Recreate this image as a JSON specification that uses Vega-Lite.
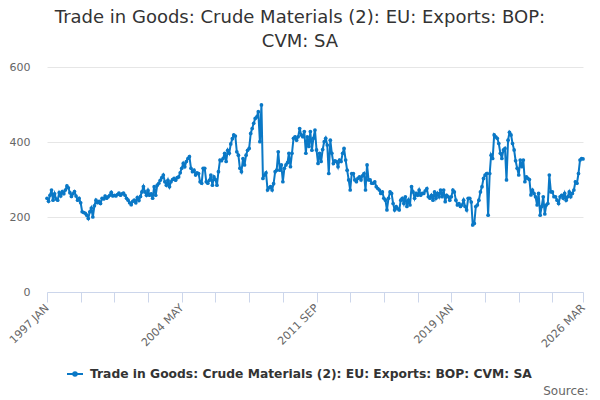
{
  "$schema": "https://vega.github.io/schema/vega-lite/v6.json",
  "description": "Trade in Goods: Crude Materials (2): EU: Exports, monthly",
  "autosize": "none",
  "width": 536,
  "height": 225,
  "padding": {"left": 47, "top": 67, "right": 17, "bottom": 108},
  "background": "white",
  "title": {
    "text": ["Trade in Goods: Crude Materials (2): EU: Exports: BOP:", "CVM: SA"],
    "font": "DejaVu Sans",
    "fontSize": 18,
    "fontWeight": "normal",
    "color": "#333333",
    "anchor": "middle",
    "frame": "group",
    "dx": -15,
    "offset": 10,
    "lineHeight": 24
  },
  "data": {
    "values": [
      {"date": "1997-01-01", "value": 250}, {"date": "1997-02-01", "value": 242}, {"date": "1997-03-01", "value": 258}, {"date": "1997-04-01", "value": 272}, {"date": "1997-05-01", "value": 245}, {"date": "1997-06-01", "value": 262}, {"date": "1997-07-01", "value": 248}, {"date": "1997-08-01", "value": 245}, {"date": "1997-09-01", "value": 265}, {"date": "1997-10-01", "value": 256}, {"date": "1997-11-01", "value": 268}, {"date": "1997-12-01", "value": 262},
      {"date": "1998-01-01", "value": 272}, {"date": "1998-02-01", "value": 283}, {"date": "1998-03-01", "value": 278}, {"date": "1998-04-01", "value": 265}, {"date": "1998-05-01", "value": 255}, {"date": "1998-06-01", "value": 262}, {"date": "1998-07-01", "value": 268}, {"date": "1998-08-01", "value": 256}, {"date": "1998-09-01", "value": 245}, {"date": "1998-10-01", "value": 250}, {"date": "1998-11-01", "value": 238}, {"date": "1998-12-01", "value": 214},
      {"date": "1999-01-01", "value": 212}, {"date": "1999-02-01", "value": 210}, {"date": "1999-03-01", "value": 205}, {"date": "1999-04-01", "value": 196}, {"date": "1999-05-01", "value": 214}, {"date": "1999-06-01", "value": 224}, {"date": "1999-07-01", "value": 200}, {"date": "1999-08-01", "value": 230}, {"date": "1999-09-01", "value": 245}, {"date": "1999-10-01", "value": 238}, {"date": "1999-11-01", "value": 242}, {"date": "1999-12-01", "value": 236},
      {"date": "2000-01-01", "value": 250}, {"date": "2000-02-01", "value": 248}, {"date": "2000-03-01", "value": 256}, {"date": "2000-04-01", "value": 250}, {"date": "2000-05-01", "value": 254}, {"date": "2000-06-01", "value": 258}, {"date": "2000-07-01", "value": 266}, {"date": "2000-08-01", "value": 256}, {"date": "2000-09-01", "value": 258}, {"date": "2000-10-01", "value": 256}, {"date": "2000-11-01", "value": 260}, {"date": "2000-12-01", "value": 264},
      {"date": "2001-01-01", "value": 258}, {"date": "2001-02-01", "value": 262}, {"date": "2001-03-01", "value": 264}, {"date": "2001-04-01", "value": 258}, {"date": "2001-05-01", "value": 250}, {"date": "2001-06-01", "value": 245}, {"date": "2001-07-01", "value": 238}, {"date": "2001-08-01", "value": 233}, {"date": "2001-09-01", "value": 242}, {"date": "2001-10-01", "value": 245}, {"date": "2001-11-01", "value": 238}, {"date": "2001-12-01", "value": 252},
      {"date": "2002-01-01", "value": 244}, {"date": "2002-02-01", "value": 255}, {"date": "2002-03-01", "value": 267}, {"date": "2002-04-01", "value": 281}, {"date": "2002-05-01", "value": 267}, {"date": "2002-06-01", "value": 258}, {"date": "2002-07-01", "value": 271}, {"date": "2002-08-01", "value": 258}, {"date": "2002-09-01", "value": 262}, {"date": "2002-10-01", "value": 250}, {"date": "2002-11-01", "value": 281}, {"date": "2002-12-01", "value": 258},
      {"date": "2003-01-01", "value": 285}, {"date": "2003-02-01", "value": 290}, {"date": "2003-03-01", "value": 298}, {"date": "2003-04-01", "value": 305}, {"date": "2003-05-01", "value": 312}, {"date": "2003-06-01", "value": 294}, {"date": "2003-07-01", "value": 285}, {"date": "2003-08-01", "value": 298}, {"date": "2003-09-01", "value": 281}, {"date": "2003-10-01", "value": 294}, {"date": "2003-11-01", "value": 300}, {"date": "2003-12-01", "value": 303},
      {"date": "2004-01-01", "value": 298}, {"date": "2004-02-01", "value": 305}, {"date": "2004-03-01", "value": 307}, {"date": "2004-04-01", "value": 318}, {"date": "2004-05-01", "value": 330}, {"date": "2004-06-01", "value": 343}, {"date": "2004-07-01", "value": 334}, {"date": "2004-08-01", "value": 348}, {"date": "2004-09-01", "value": 356}, {"date": "2004-10-01", "value": 361}, {"date": "2004-11-01", "value": 330}, {"date": "2004-12-01", "value": 321},
      {"date": "2005-01-01", "value": 325}, {"date": "2005-02-01", "value": 312}, {"date": "2005-03-01", "value": 318}, {"date": "2005-04-01", "value": 316}, {"date": "2005-05-01", "value": 294}, {"date": "2005-06-01", "value": 290}, {"date": "2005-07-01", "value": 330}, {"date": "2005-08-01", "value": 330}, {"date": "2005-09-01", "value": 294}, {"date": "2005-10-01", "value": 290}, {"date": "2005-11-01", "value": 298}, {"date": "2005-12-01", "value": 312},
      {"date": "2006-01-01", "value": 285}, {"date": "2006-02-01", "value": 307}, {"date": "2006-03-01", "value": 300}, {"date": "2006-04-01", "value": 285}, {"date": "2006-05-01", "value": 321}, {"date": "2006-06-01", "value": 352}, {"date": "2006-07-01", "value": 350}, {"date": "2006-08-01", "value": 356}, {"date": "2006-09-01", "value": 370}, {"date": "2006-10-01", "value": 348}, {"date": "2006-11-01", "value": 378}, {"date": "2006-12-01", "value": 370},
      {"date": "2007-01-01", "value": 395}, {"date": "2007-02-01", "value": 409}, {"date": "2007-03-01", "value": 419}, {"date": "2007-04-01", "value": 416}, {"date": "2007-05-01", "value": 374}, {"date": "2007-06-01", "value": 365}, {"date": "2007-07-01", "value": 330}, {"date": "2007-08-01", "value": 321}, {"date": "2007-09-01", "value": 356}, {"date": "2007-10-01", "value": 339}, {"date": "2007-11-01", "value": 365}, {"date": "2007-12-01", "value": 378},
      {"date": "2008-01-01", "value": 383}, {"date": "2008-02-01", "value": 423}, {"date": "2008-03-01", "value": 436}, {"date": "2008-04-01", "value": 450}, {"date": "2008-05-01", "value": 463}, {"date": "2008-06-01", "value": 467}, {"date": "2008-07-01", "value": 481}, {"date": "2008-08-01", "value": 401}, {"date": "2008-09-01", "value": 499}, {"date": "2008-10-01", "value": 303}, {"date": "2008-11-01", "value": 312}, {"date": "2008-12-01", "value": 318},
      {"date": "2009-01-01", "value": 272}, {"date": "2009-02-01", "value": 278}, {"date": "2009-03-01", "value": 281}, {"date": "2009-04-01", "value": 272}, {"date": "2009-05-01", "value": 289}, {"date": "2009-06-01", "value": 321}, {"date": "2009-07-01", "value": 325}, {"date": "2009-08-01", "value": 374}, {"date": "2009-09-01", "value": 325}, {"date": "2009-10-01", "value": 339}, {"date": "2009-11-01", "value": 294}, {"date": "2009-12-01", "value": 330},
      {"date": "2010-01-01", "value": 339}, {"date": "2010-02-01", "value": 345}, {"date": "2010-03-01", "value": 370}, {"date": "2010-04-01", "value": 334}, {"date": "2010-05-01", "value": 370}, {"date": "2010-06-01", "value": 410}, {"date": "2010-07-01", "value": 414}, {"date": "2010-08-01", "value": 405}, {"date": "2010-09-01", "value": 414}, {"date": "2010-10-01", "value": 436}, {"date": "2010-11-01", "value": 419}, {"date": "2010-12-01", "value": 414},
      {"date": "2011-01-01", "value": 428}, {"date": "2011-02-01", "value": 370}, {"date": "2011-03-01", "value": 414}, {"date": "2011-04-01", "value": 388}, {"date": "2011-05-01", "value": 428}, {"date": "2011-06-01", "value": 378}, {"date": "2011-07-01", "value": 410}, {"date": "2011-08-01", "value": 432}, {"date": "2011-09-01", "value": 379}, {"date": "2011-10-01", "value": 343}, {"date": "2011-11-01", "value": 370}, {"date": "2011-12-01", "value": 348},
      {"date": "2012-01-01", "value": 380}, {"date": "2012-02-01", "value": 401}, {"date": "2012-03-01", "value": 410}, {"date": "2012-04-01", "value": 392}, {"date": "2012-05-01", "value": 316}, {"date": "2012-06-01", "value": 405}, {"date": "2012-07-01", "value": 370}, {"date": "2012-08-01", "value": 343}, {"date": "2012-09-01", "value": 350}, {"date": "2012-10-01", "value": 348}, {"date": "2012-11-01", "value": 334}, {"date": "2012-12-01", "value": 352},
      {"date": "2013-01-01", "value": 348}, {"date": "2013-02-01", "value": 370}, {"date": "2013-03-01", "value": 383}, {"date": "2013-04-01", "value": 352}, {"date": "2013-05-01", "value": 325}, {"date": "2013-06-01", "value": 299}, {"date": "2013-07-01", "value": 272}, {"date": "2013-08-01", "value": 316}, {"date": "2013-09-01", "value": 316}, {"date": "2013-10-01", "value": 299}, {"date": "2013-11-01", "value": 294}, {"date": "2013-12-01", "value": 303},
      {"date": "2014-01-01", "value": 307}, {"date": "2014-02-01", "value": 299}, {"date": "2014-03-01", "value": 310}, {"date": "2014-04-01", "value": 316}, {"date": "2014-05-01", "value": 272}, {"date": "2014-06-01", "value": 339}, {"date": "2014-07-01", "value": 299}, {"date": "2014-08-01", "value": 299}, {"date": "2014-09-01", "value": 290}, {"date": "2014-10-01", "value": 290}, {"date": "2014-11-01", "value": 294}, {"date": "2014-12-01", "value": 281},
      {"date": "2015-01-01", "value": 276}, {"date": "2015-02-01", "value": 272}, {"date": "2015-03-01", "value": 263}, {"date": "2015-04-01", "value": 267}, {"date": "2015-05-01", "value": 250}, {"date": "2015-06-01", "value": 245}, {"date": "2015-07-01", "value": 219}, {"date": "2015-08-01", "value": 250}, {"date": "2015-09-01", "value": 267}, {"date": "2015-10-01", "value": 263}, {"date": "2015-11-01", "value": 236}, {"date": "2015-12-01", "value": 219},
      {"date": "2016-01-01", "value": 228}, {"date": "2016-02-01", "value": 222}, {"date": "2016-03-01", "value": 219}, {"date": "2016-04-01", "value": 245}, {"date": "2016-05-01", "value": 250}, {"date": "2016-06-01", "value": 236}, {"date": "2016-07-01", "value": 254}, {"date": "2016-08-01", "value": 228}, {"date": "2016-09-01", "value": 245}, {"date": "2016-10-01", "value": 232}, {"date": "2016-11-01", "value": 281}, {"date": "2016-12-01", "value": 267},
      {"date": "2017-01-01", "value": 250}, {"date": "2017-02-01", "value": 263}, {"date": "2017-03-01", "value": 258}, {"date": "2017-04-01", "value": 272}, {"date": "2017-05-01", "value": 258}, {"date": "2017-06-01", "value": 263}, {"date": "2017-07-01", "value": 263}, {"date": "2017-08-01", "value": 270}, {"date": "2017-09-01", "value": 276}, {"date": "2017-10-01", "value": 254}, {"date": "2017-11-01", "value": 250}, {"date": "2017-12-01", "value": 258},
      {"date": "2018-01-01", "value": 245}, {"date": "2018-02-01", "value": 267}, {"date": "2018-03-01", "value": 250}, {"date": "2018-04-01", "value": 263}, {"date": "2018-05-01", "value": 254}, {"date": "2018-06-01", "value": 272}, {"date": "2018-07-01", "value": 254}, {"date": "2018-08-01", "value": 272}, {"date": "2018-09-01", "value": 241}, {"date": "2018-10-01", "value": 258}, {"date": "2018-11-01", "value": 254}, {"date": "2018-12-01", "value": 245},
      {"date": "2019-01-01", "value": 254}, {"date": "2019-02-01", "value": 272}, {"date": "2019-03-01", "value": 267}, {"date": "2019-04-01", "value": 245}, {"date": "2019-05-01", "value": 232}, {"date": "2019-06-01", "value": 236}, {"date": "2019-07-01", "value": 228}, {"date": "2019-08-01", "value": 232}, {"date": "2019-09-01", "value": 245}, {"date": "2019-10-01", "value": 228}, {"date": "2019-11-01", "value": 219}, {"date": "2019-12-01", "value": 250},
      {"date": "2020-01-01", "value": 250}, {"date": "2020-02-01", "value": 240}, {"date": "2020-03-01", "value": 179}, {"date": "2020-04-01", "value": 183}, {"date": "2020-05-01", "value": 228}, {"date": "2020-06-01", "value": 232}, {"date": "2020-07-01", "value": 245}, {"date": "2020-08-01", "value": 267}, {"date": "2020-09-01", "value": 281}, {"date": "2020-10-01", "value": 303}, {"date": "2020-11-01", "value": 312}, {"date": "2020-12-01", "value": 316},
      {"date": "2021-01-01", "value": 205}, {"date": "2021-02-01", "value": 316}, {"date": "2021-03-01", "value": 365}, {"date": "2021-04-01", "value": 356}, {"date": "2021-05-01", "value": 419}, {"date": "2021-06-01", "value": 414}, {"date": "2021-07-01", "value": 410}, {"date": "2021-08-01", "value": 396}, {"date": "2021-09-01", "value": 370}, {"date": "2021-10-01", "value": 356}, {"date": "2021-11-01", "value": 379}, {"date": "2021-12-01", "value": 383},
      {"date": "2022-01-01", "value": 299}, {"date": "2022-02-01", "value": 405}, {"date": "2022-03-01", "value": 426}, {"date": "2022-04-01", "value": 419}, {"date": "2022-05-01", "value": 396}, {"date": "2022-06-01", "value": 379}, {"date": "2022-07-01", "value": 350}, {"date": "2022-08-01", "value": 330}, {"date": "2022-09-01", "value": 312}, {"date": "2022-10-01", "value": 352}, {"date": "2022-11-01", "value": 334}, {"date": "2022-12-01", "value": 352},
      {"date": "2023-01-01", "value": 294}, {"date": "2023-02-01", "value": 307}, {"date": "2023-03-01", "value": 303}, {"date": "2023-04-01", "value": 300}, {"date": "2023-05-01", "value": 259}, {"date": "2023-06-01", "value": 272}, {"date": "2023-07-01", "value": 263}, {"date": "2023-08-01", "value": 254}, {"date": "2023-09-01", "value": 232}, {"date": "2023-10-01", "value": 263}, {"date": "2023-11-01", "value": 205}, {"date": "2023-12-01", "value": 228},
      {"date": "2024-01-01", "value": 254}, {"date": "2024-02-01", "value": 208}, {"date": "2024-03-01", "value": 232}, {"date": "2024-04-01", "value": 236}, {"date": "2024-05-01", "value": 312}, {"date": "2024-06-01", "value": 267}, {"date": "2024-07-01", "value": 267}, {"date": "2024-08-01", "value": 254}, {"date": "2024-09-01", "value": 254}, {"date": "2024-10-01", "value": 245}, {"date": "2024-11-01", "value": 236}, {"date": "2024-12-01", "value": 254},
      {"date": "2025-01-01", "value": 258}, {"date": "2025-02-01", "value": 250}, {"date": "2025-03-01", "value": 263}, {"date": "2025-04-01", "value": 245}, {"date": "2025-05-01", "value": 254}, {"date": "2025-06-01", "value": 267}, {"date": "2025-07-01", "value": 254}, {"date": "2025-08-01", "value": 263}, {"date": "2025-09-01", "value": 272}, {"date": "2025-10-01", "value": 294}, {"date": "2025-11-01", "value": 290}, {"date": "2025-12-01", "value": 316},
      {"date": "2026-01-01", "value": 352}, {"date": "2026-02-01", "value": 356}, {"date": "2026-03-01", "value": 355}
    ]
  },
  "mark": {
    "type": "line",
    "strokeWidth": 2,
    "point": {"filled": true, "size": 14}
  },
  "encoding": {
    "x": {
      "field": "date",
      "type": "temporal",
      "scale": {
        "type": "utc",
        "nice": false,
        "domain": [
          {"year": 1997, "month": 1, "date": 1, "utc": true},
          {"year": 2026, "month": 3, "date": 1, "utc": true}
        ]
      },
      "axis": {
        "title": "Source:",
        "titleFont": "DejaVu Sans",
        "titleFontSize": 12,
        "titleFontWeight": "normal",
        "titleColor": "#666666",
        "titleAnchor": "end",
        "titleAlign": "right",
        "titleBaseline": "alphabetic",
        "titleX": 541,
        "titleY": 102,
        "values": [
          {"year": 1997, "month": 1, "utc": true},
          {"year": 1998, "month": 11, "utc": true},
          {"year": 2000, "month": 9, "utc": true},
          {"year": 2002, "month": 7, "utc": true},
          {"year": 2004, "month": 5, "utc": true},
          {"year": 2006, "month": 3, "utc": true},
          {"year": 2008, "month": 1, "utc": true},
          {"year": 2009, "month": 11, "utc": true},
          {"year": 2011, "month": 9, "utc": true},
          {"year": 2013, "month": 7, "utc": true},
          {"year": 2015, "month": 5, "utc": true},
          {"year": 2017, "month": 3, "utc": true},
          {"year": 2019, "month": 1, "utc": true},
          {"year": 2020, "month": 11, "utc": true},
          {"year": 2022, "month": 9, "utc": true},
          {"year": 2024, "month": 7, "utc": true},
          {"year": 2026, "month": 3, "utc": true}
        ],
        "labelExpr": "indexof(['1997-01','2004-05','2011-09','2019-01','2026-03'], utcFormat(datum.value, '%Y-%m')) >= 0 ? upper(utcFormat(datum.value, '%Y %b')) : ''",
        "labelAngle": -45,
        "labelAlign": "right",
        "labelBaseline": "middle",
        "labelFont": "DejaVu Sans",
        "labelFontSize": 11,
        "labelColor": "#666666",
        "labelPadding": 4,
        "labelOverlap": false,
        "labelFlush": false,
        "labelBound": false,
        "grid": false,
        "domainColor": "#ccd6eb",
        "tickColor": "#ccd6eb",
        "tickSize": 10
      }
    },
    "y": {
      "field": "value",
      "type": "quantitative",
      "scale": {"domain": [0, 600], "nice": false},
      "axis": {
        "title": null,
        "values": [0, 200, 400, 600],
        "domain": false,
        "ticks": false,
        "gridColor": "#e6e6e6",
        "labelFont": "DejaVu Sans",
        "labelFontSize": 11,
        "labelColor": "#666666",
        "labelPadding": 17
      }
    },
    "color": {
      "datum": "Trade in Goods: Crude Materials (2): EU: Exports: BOP: CVM: SA",
      "type": "nominal",
      "scale": {"range": ["#0a78c6"]},
      "legend": {
        "title": null,
        "orient": "none",
        "legendX": 19,
        "legendY": 298,
        "labelFont": "DejaVu Sans",
        "labelFontSize": 12.3,
        "labelFontWeight": "bold",
        "labelColor": "#333333",
        "labelLimit": 0,
        "labelOffset": 6,
        "symbolType": "M-1,0H1M-0.22,0A0.22,0.22 0 1,0 0.22,0A0.22,0.22 0 1,0 -0.22,0Z",
        "symbolSize": 256,
        "symbolStrokeWidth": 2,
        "symbolFillColor": "#0a78c6",
        "symbolStrokeColor": "#0a78c6"
      }
    }
  },
  "config": {
    "view": {"stroke": null}
  }
}
